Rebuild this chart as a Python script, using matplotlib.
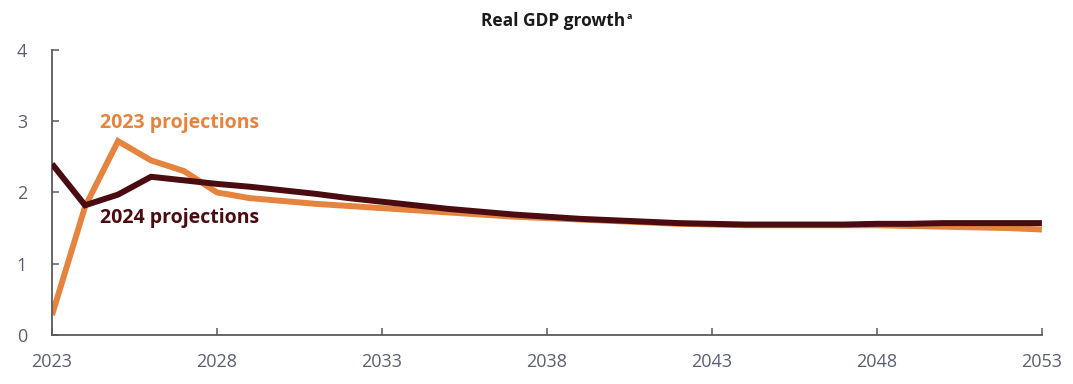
import matplotlib
matplotlib.use("Agg")
import matplotlib.pyplot as plt

plt.rcParams['font.family'] = ['Open Sans', 'DejaVu Sans']

# Real GDP growth, percent, by projection vintage
years = list(range(2023, 2054))
proj_2023 = [0.28, 1.80, 2.72, 2.45, 2.30, 2.00, 1.92, 1.88, 1.84, 1.81, 1.78,
             1.75, 1.72, 1.69, 1.66, 1.64, 1.62, 1.60, 1.58, 1.56, 1.55, 1.54,
             1.54, 1.54, 1.54, 1.54, 1.53, 1.52, 1.51, 1.50, 1.48]
proj_2024 = [2.40, 1.82, 1.97, 2.22, 2.17, 2.12, 2.08, 2.03, 1.98, 1.92, 1.87,
             1.82, 1.77, 1.73, 1.69, 1.66, 1.63, 1.61, 1.59, 1.57, 1.56, 1.55,
             1.55, 1.55, 1.55, 1.56, 1.56, 1.57, 1.57, 1.57, 1.57]
x_ticks = [2023, 2028, 2033, 2038, 2043, 2048, 2053]
y_ticks = [0, 1, 2, 3, 4]

ORANGE = "#E5843F"
MAROON = "#4A0C10"
AXIS = "#5a5a5a"
TICKTXT = "#5b6070"

fig = plt.figure(figsize=(10.73, 3.84), dpi=100)
ax = fig.add_axes([0.0485, 0.1276, 0.9225, 0.7424])

ax.plot(years, proj_2023, color=ORANGE, lw=4.3, solid_joinstyle='miter',
        solid_capstyle='butt', zorder=2)
ax.plot(years, proj_2024, color=MAROON, lw=4.3, solid_joinstyle='miter',
        solid_capstyle='butt', zorder=3)

ax.set_xlim(2023, 2053)
ax.set_ylim(0, 4)
ax.set_xticks(x_ticks)
ax.set_yticks(y_ticks)
ax.set_xticklabels([str(y) for y in x_ticks])
ax.set_yticklabels([str(v) for v in y_ticks])

for side in ("top", "right"):
    ax.spines[side].set_visible(False)
for side in ("left", "bottom"):
    ax.spines[side].set_color(AXIS)
    ax.spines[side].set_linewidth(1.3)

ax.tick_params(axis='both', direction='in', length=5, width=1.1, color=AXIS,
               labelsize=13, labelcolor=TICKTXT)
ax.tick_params(axis='x', pad=13)
ax.tick_params(axis='y', pad=18)

ax.text(2024.45, 2.97, "2023 projections", color=ORANGE, fontsize=14,
        fontweight='bold', ha='left', va='center')
ax.text(2024.45, 1.64, "2024 projections", color=MAROON, fontsize=14,
        fontweight='bold', ha='left', va='center')

# Title with a small footnote marker
fig.text(0.583, 0.945, "Real GDP growth", ha='right', va='center',
         fontsize=12.5, fontweight='bold', color="#1a1a1a")
fig.text(0.584, 0.958, "a", ha='left', va='center',
         fontsize=6.5, fontweight='bold', color="#1a1a1a")

fig.savefig("out.png", dpi=100, facecolor="white")
